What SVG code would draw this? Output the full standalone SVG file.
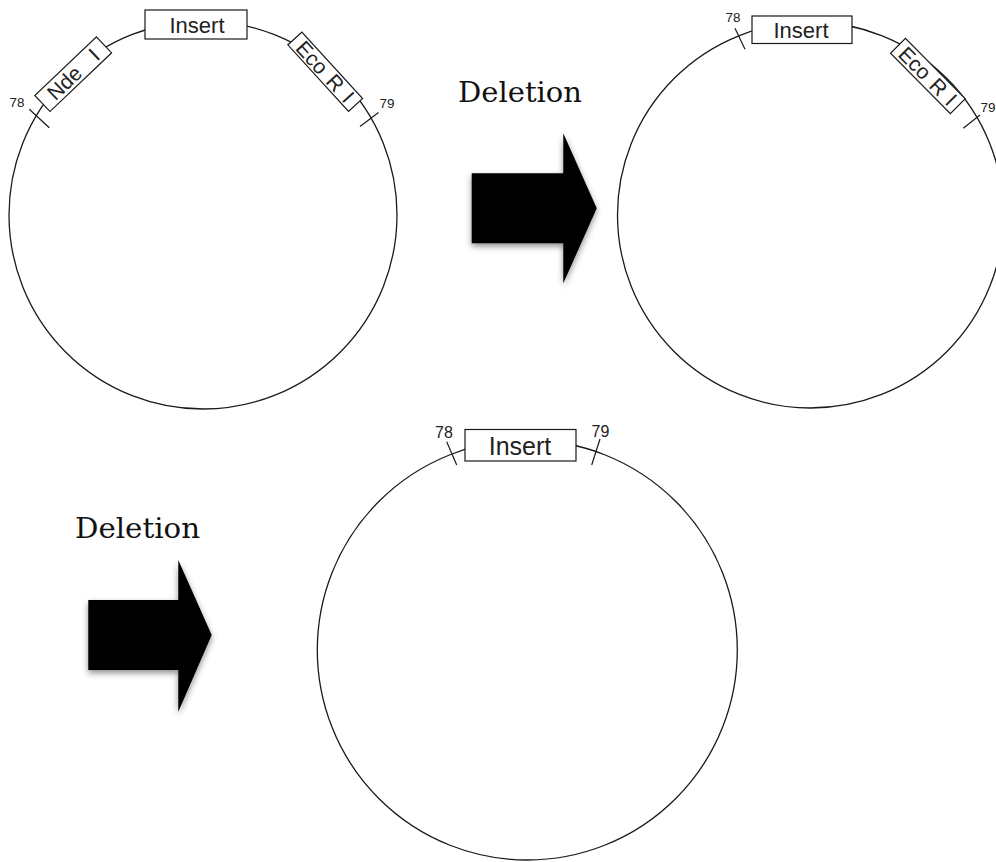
<svg xmlns="http://www.w3.org/2000/svg" width="996" height="862" viewBox="0 0 996 862">
<defs>
<style>
.ring{fill:none;stroke:#1a1a1a;stroke-width:1.3}
.box{fill:#fff;stroke:#1a1a1a;stroke-width:1.2}
.tick{stroke:#1a1a1a;stroke-width:1.2}
.lbl{font-family:"Liberation Sans",Arial,sans-serif;fill:#222}
.num{font-family:"Liberation Sans",Arial,sans-serif;font-size:13.5px;fill:#222}
.del{font-family:"DejaVu Serif","Liberation Serif",serif;font-size:27px;fill:#111}
.arrow{fill:#000;filter:url(#sh)}
</style>
<filter id="sh" x="-20%" y="-20%" width="140%" height="150%">
<feDropShadow dx="0" dy="3" stdDeviation="3" flood-color="#000" flood-opacity="0.45"/>
</filter>
</defs>
<rect width="996" height="862" fill="#fff"/>

<g id="plasmid1">
<circle class="ring" cx="203" cy="215" r="194"/>
<rect class="box" x="145" y="10" width="102" height="29"/>
<text class="lbl" x="197" y="32.5" font-size="22" text-anchor="middle">Insert</text>
<g transform="translate(73.2,74.2) rotate(-43.6)">
<rect class="box" x="-42.5" y="-11" width="85" height="22"/>
<text class="lbl" x="0" y="7.5" font-size="21" text-anchor="middle" word-spacing="13">Nde I</text>
</g>
<g transform="translate(325.2,71.7) rotate(47.6)">
<rect class="box" x="-45" y="-9.5" width="90" height="19"/>
<text class="lbl" x="0" y="7.5" font-size="21" text-anchor="middle" word-spacing="3">Eco R I</text>
</g>
<line class="tick" x1="29.3" y1="109.3" x2="49.3" y2="127.7"/>
<text class="num" x="17" y="107" text-anchor="middle">78</text>
<line class="tick" x1="360" y1="126.5" x2="378.5" y2="112.5"/>
<text class="num" x="387" y="107.5" text-anchor="middle">79</text>
</g>

<g id="plasmid2">
<circle class="ring" cx="810.5" cy="215" r="193"/>
<rect class="box" x="752" y="16" width="100" height="27.5"/>
<text class="lbl" x="801" y="37.5" font-size="22" text-anchor="middle">Insert</text>
<g transform="translate(927.9,76) rotate(45.3)">
<rect class="box" x="-42.5" y="-10.5" width="85" height="21"/>
<text class="lbl" x="0" y="7.5" font-size="21" text-anchor="middle" word-spacing="2">Eco R I</text>
</g>
<line class="tick" x1="735" y1="28.3" x2="745" y2="49.3"/>
<text class="num" x="733" y="22" text-anchor="middle">78</text>
<line class="tick" x1="963.3" y1="128.3" x2="980" y2="115"/>
<text class="num" x="988" y="112" text-anchor="middle">79</text>
</g>

<g id="plasmid3">
<circle class="ring" cx="527.3" cy="650" r="210"/>
<rect class="box" x="465" y="429.5" width="111" height="31.5"/>
<text class="lbl" x="520" y="455" font-size="25" text-anchor="middle">Insert</text>
<line class="tick" x1="446.7" y1="441.7" x2="456.7" y2="465"/>
<text class="num" x="444" y="437.5" text-anchor="middle" style="font-size:16px">78</text>
<line class="tick" x1="600" y1="439" x2="591.7" y2="465"/>
<text class="num" x="600.5" y="437" text-anchor="middle" style="font-size:16px">79</text>
</g>

<g id="connectors">
<g id="step1">
<text class="del" x="458" y="102" textLength="124" lengthAdjust="spacingAndGlyphs">Deletion</text>
<path class="arrow" d="M471.7,173.3 H563.3 V133.3 L596.7,208.3 L563.3,283.3 V243.3 H471.7 Z"/>
</g>
<g id="step2">
<text class="del" x="75" y="538" textLength="125" lengthAdjust="spacingAndGlyphs">Deletion</text>
<path class="arrow" d="M88.3,600 H178.3 V560 L211.7,635 L178.3,711.7 V670 H88.3 Z"/>
</g>
</g>
</svg>
